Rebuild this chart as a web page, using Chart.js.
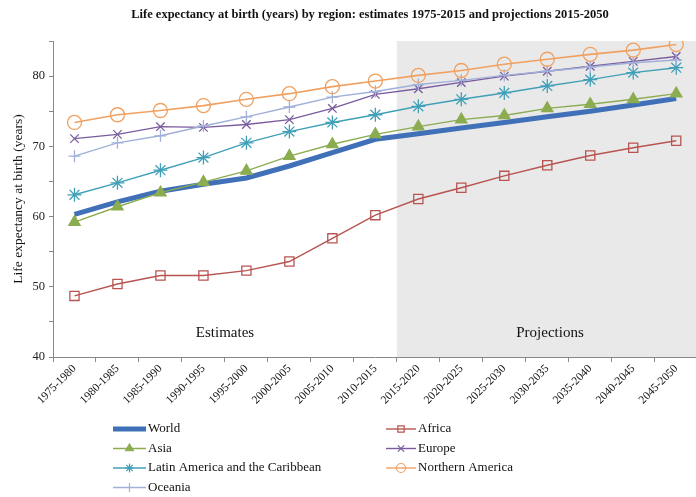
<!DOCTYPE html>
<html>
<head>
<meta charset="utf-8">
<script src="https://cdn.jsdelivr.net/npm/chart.js@4.4.1/dist/chart.umd.min.js"></script>
<style>
  html, body { margin: 0; padding: 0; background: #fff; overflow: hidden; }
  #wrap { position: relative; width: 706px; height: 497px; }
</style>
</head>
<body>
<div id="wrap"><canvas id="c"></canvas></div>
<script>
const categories = ["1975-1980","1980-1985","1985-1990","1990-1995","1995-2000","2000-2005","2005-2010","2010-2015","2015-2020","2020-2025","2025-2030","2030-2035","2035-2040","2040-2045","2045-2050"];
const world    = [60.3, 62.1, 63.6, 64.6, 65.5, 67.2, 69.1, 71.0, 71.8, 72.6, 73.4, 74.2, 75.0, 75.9, 76.8];
const africa   = [48.7, 50.4, 51.6, 51.6, 52.3, 53.6, 56.9, 60.2, 62.5, 64.1, 65.8, 67.3, 68.7, 69.8, 70.8];
const asia     = [59.2, 61.4, 63.4, 64.9, 66.5, 68.6, 70.3, 71.7, 72.8, 73.8, 74.4, 75.4, 76.0, 76.7, 77.5];
const europe   = [71.1, 71.7, 72.8, 72.7, 73.1, 73.8, 75.4, 77.4, 78.2, 79.1, 80.0, 80.7, 81.4, 82.1, 82.8];
const latinAm  = [63.1, 64.8, 66.6, 68.4, 70.5, 72.1, 73.4, 74.5, 75.7, 76.7, 77.6, 78.6, 79.5, 80.5, 81.2];
const northAm  = [73.4, 74.5, 75.1, 75.8, 76.7, 77.5, 78.5, 79.3, 80.1, 80.8, 81.7, 82.4, 83.1, 83.7, 84.5];
const oceania  = [68.6, 70.5, 71.5, 72.9, 74.2, 75.6, 77.0, 77.8, 78.8, 79.4, 80.1, 80.7, 81.3, 81.9, 82.3];
const yTickValues = [40, 45, 50, 55, 60, 65, 70, 75, 80, 85];
const yTickLabels = ["40", "", "50", "", "60", "", "70", "", "80", ""];
const seriesNames = ["World","Africa","Asia","Europe","Latin America and the Caribbean","Northern America","Oceania"];
const titleText = "Life expectancy at birth (years) by region: estimates 1975-2015 and projections 2015-2050";
const yTitle = "Life expectancy at birth (years)";
const periodLabels = ["Estimates", "Projections"];

const SERIF = "'Liberation Serif', 'DejaVu Serif', serif";

function ds(label, data, color, style, radius, fill, width, order) {
  return {
    label, data,
    borderColor: color,
    backgroundColor: fill,
    borderWidth: width,
    pointStyle: style,
    pointRadius: radius,
    pointBorderColor: color,
    pointBackgroundColor: fill,
    pointBorderWidth: 1.3,
    pointHoverRadius: radius,
    tension: 0,
    order
  };
}

const datasets = [
  ds(seriesNames[0], world,   '#4070b8', false,      0, '#4070b8', 5,   7),
  ds(seriesNames[1], africa,  '#b85450', 'rect',     6.5, 'rgba(255,255,255,0)', 1.4, 6),
  ds(seriesNames[2], asia,    '#8cac50', 'triangle', 6.5, '#8cac50', 1.4, 1),
  ds(seriesNames[3], europe,  '#7a5c9e', 'crossRot', 6,   '#7a5c9e', 1.4, 5),
  ds(seriesNames[4], latinAm, '#40a0b8', 'star',     7,   '#40a0b8', 1.4, 4),
  ds(seriesNames[5], northAm, '#f0a060', 'circle',   7,   'rgba(255,255,255,0)', 1.6, 2),
  ds(seriesNames[6], oceania, '#a0b0d8', 'cross',    6,   '#a0b0d8', 1.4, 3)
];

const decoPlugin = {
  id: 'deco',
  beforeDatasetsDraw(chart) {
    const {ctx, chartArea, scales} = chart;
    const x0 = scales.x.getPixelForValue(7.5);
    ctx.save();
    ctx.fillStyle = '#e9e9e9';
    ctx.fillRect(x0, chartArea.top, chartArea.right - x0, chartArea.bottom - chartArea.top);
    ctx.fillStyle = '#111';
    ctx.font = "15px " + SERIF;
    ctx.textAlign = 'center';
    ctx.textBaseline = 'middle';
    ctx.fillText(periodLabels[0], 225, 333);
    ctx.fillText(periodLabels[1], 550, 333);
    ctx.restore();
  },
  afterDraw(chart) {
    const {ctx} = chart;
    ctx.save();
    ctx.fillStyle = '#111';
    ctx.font = "bold 12.5px " + SERIF;
    ctx.textAlign = 'center';
    ctx.textBaseline = 'middle';
    ctx.fillText(titleText, 370, 15);

    // legend
    const rows = [429, 448.5, 468, 487.5];
    const cols = [{x1: 113, x2: 146}, {x1: 386, x2: 416}];
    const layout = [[0,0,0],[1,1,0],[2,0,1],[3,1,1],[4,0,2],[5,1,2],[6,0,3]];
    ctx.font = "13px " + SERIF;
    ctx.textAlign = 'left';
    layout.forEach(([i, c, r]) => {
      const d = chart.data.datasets[i];
      const y = rows[r];
      const {x1, x2} = cols[c];
      ctx.strokeStyle = d.borderColor;
      ctx.lineWidth = i === 0 ? 5 : 1.4;
      ctx.beginPath(); ctx.moveTo(x1, y); ctx.lineTo(x2, y); ctx.stroke();
      if (d.pointStyle) {
        ctx.lineWidth = 1.2;
        ctx.strokeStyle = d.pointBorderColor;
        ctx.fillStyle = d.pointBackgroundColor;
        Chart.helpers.drawPoint(ctx, {pointStyle: d.pointStyle, radius: 4.5, rotation: 0, borderWidth: 1.2}, (x1 + x2) / 2, y);
      }
      ctx.fillStyle = '#111';
      ctx.fillText(d.label, x2 + 2, y);
    });
    ctx.restore();
  }
};

new Chart(document.getElementById('c'), {
  type: 'line',
  data: { labels: categories, datasets },
  options: {
    responsive: true,
    maintainAspectRatio: false,
    animation: false,
    layout: { padding: { top: 41, right: 0, left: 10, bottom: 0 } },
    plugins: { legend: { display: false }, title: { display: false }, tooltip: { enabled: false } },
    scales: {
      x: {
        type: 'category',
        offset: true,
        grid: { display: true, drawOnChartArea: false, drawTicks: true, tickLength: 5, offset: true, color: '#888' },
        border: { display: true, color: '#888', width: 1 },
        ticks: { minRotation: 45, maxRotation: 45, autoSkip: false, color: '#111', font: { family: SERIF, size: 11.5 }, padding: 0 },
        afterFit(s) { s.height = 140; }
      },
      y: {
        min: 40, max: 85,
        afterBuildTicks(s) { s.ticks = yTickValues.map(v => ({value: v})); },
        grid: { display: true, drawOnChartArea: false, drawTicks: true, tickLength: 4, color: '#888' },
        border: { display: true, color: '#888', width: 1 },
        ticks: {
          color: '#222', font: { family: SERIF, size: 12.5 }, padding: 4,
          callback(v, idx) { return yTickLabels[idx]; }
        },
        title: { display: true, text: yTitle, color: '#111', font: { family: SERIF, size: 13.5 }, padding: { top: 0, bottom: 2 } },
        afterFit(s) { s.width = 43; }
      }
    }
  },
  plugins: [decoPlugin]
});
</script>
</body>
</html>
